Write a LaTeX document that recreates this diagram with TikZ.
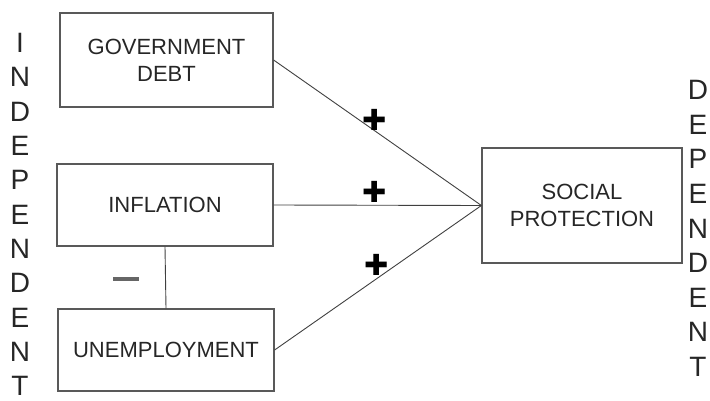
\documentclass[tikz,border=0pt]{standalone}
\usepackage{fontspec}
\setmainfont{Liberation Sans}
\newfontfamily\symfont{DejaVu Sans}
\usetikzlibrary{positioning}

\tikzset{
  varbox/.style={draw=black!65, line width=1.2pt, align=center, inner sep=0pt,
    font=\fontsize{22}{27}\selectfont, text=black!85},
  link/.style={draw=black!75, line width=0.9pt},
  sideletter/.style={inner sep=0pt, font=\fontsize{28}{28}\selectfont, text=black!85},
  plussign/.style={inner sep=0pt, font=\symfont\fontsize{29}{29}\selectfont},
  minussign/.style={inner sep=0pt, fill=black!60, minimum width=26pt, minimum height=4pt}
}

\begin{document}
\begin{tikzpicture}[x=1pt,y=-1pt]
    \useasboundingbox (0,0) rectangle (710,401);
    % independent variables
    \node[varbox, minimum width=213pt, minimum height=94pt] (debt) at (166.5,60) {GOVERNMENT\\DEBT};
    \node[varbox, minimum width=216pt, minimum height=82pt] (infl) at (165,205) {INFLATION};
    \node[varbox, minimum width=216pt, minimum height=82pt] (unemp) at (166,350) {UNEMPLOYMENT};
    % dependent variable
    \node[varbox, minimum width=200pt, minimum height=115pt] (social) at (582,205.5) {SOCIAL\\PROTECTION};
    % links
    \draw[link] (debt.east) -- (social.west);
    \draw[link] (infl.east) -- (social.west);
    \draw[link] (unemp.east) -- (social.west);
    \draw[link] (infl.south) -- (unemp.north);
    % signs
    \node[plussign] (plusA) at (375,120) {✚};
    \node[plussign] (plusB) at (375,192) {✚};
    \node[plussign] (plusC) at (377,265) {✚};
    \node[minussign] (minus) at (126,279) {};
    % side labels
    \foreach \ch [count=\i from 0] in {I,N,D,E,P,E,N,D,E,N,T}
      \node[sideletter] (indep\i) at (20,43+34.3*\i) {\ch};
    \foreach \ch [count=\i from 0] in {D,E,P,E,N,D,E,N,T}
      \node[sideletter] (dep\i) at (698,90+34.6*\i) {\ch};
\end{tikzpicture}
\end{document}
